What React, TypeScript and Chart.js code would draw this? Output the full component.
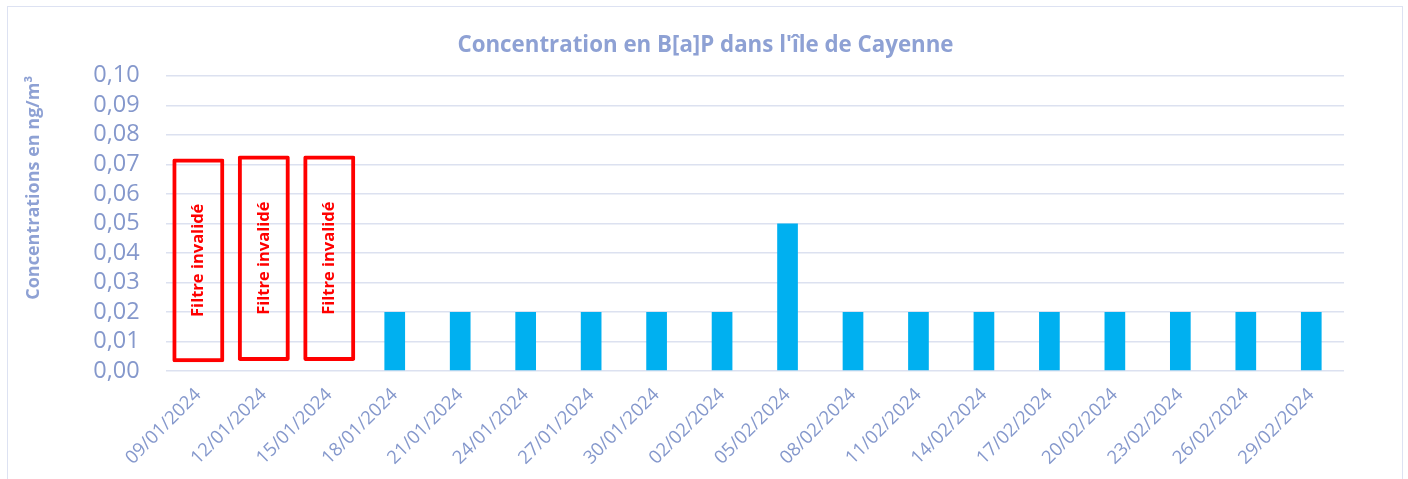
import React, { useEffect, useRef } from "react";
import { Chart, registerables } from "chart.js";

Chart.register(...registerables);

const categories = [
  "09/01/2024", "12/01/2024", "15/01/2024", "18/01/2024", "21/01/2024", "24/01/2024",
  "27/01/2024", "30/01/2024", "02/02/2024", "05/02/2024", "08/02/2024", "11/02/2024",
  "14/02/2024", "17/02/2024", "20/02/2024", "23/02/2024", "26/02/2024", "29/02/2024",
];
const concentrations: (number | null)[] = [
  null, null, null, 0.02, 0.02, 0.02, 0.02, 0.02, 0.02, 0.05, 0.02, 0.02, 0.02, 0.02, 0.02, 0.02, 0.02, 0.02,
];
const invalidRanges: ([number, number] | null)[] = [
  [0.003, 0.072], [0.0034, 0.073], [0.0034, 0.073],
  null, null, null, null, null, null, null, null, null, null, null, null, null, null, null,
];
const invalidLabel = "Filtre invalidé";
const chartTitle = "Concentration en B[a]P dans l'île de Cayenne";
const yTitle = "Concentrations en ng/m³";

const FONT = "'Open Sans', sans-serif";
const TICK_COLOR = "#8598cc";
const TITLE_COLOR = "#8ea1d4";
const GRID_COLOR = "#dce1f0";

const boxTextPlugin = {
  id: "boxText",
  afterDatasetsDraw(chart: any) {
    const meta = chart.getDatasetMeta(1);
    const ctx = chart.ctx;
    ctx.save();
    ctx.fillStyle = "#ff0000";
    ctx.font = `bold 16.5px ${FONT}`;
    ctx.textAlign = "center";
    ctx.textBaseline = "middle";
    meta.data.forEach((el: any, i: number) => {
      if (!invalidRanges[i]) return;
      const cx = el.x;
      const cy = (el.y + el.base) / 2;
      ctx.save();
      ctx.translate(cx, cy);
      ctx.rotate(-Math.PI / 2);
      ctx.fillText(invalidLabel, 0, 0);
      ctx.restore();
    });
    ctx.restore();
  },
};

export default function App() {
  const ref = useRef<HTMLCanvasElement>(null);
  useEffect(() => {
    if (!ref.current) return;
    const chart = new Chart(ref.current, {
      type: "bar",
      data: {
        labels: categories,
        datasets: [
          {
            label: "B[a]P",
            data: concentrations as any,
            backgroundColor: "#00b0f0",
            barPercentage: 0.316,
            categoryPercentage: 1,
            grouped: false,
            order: 1,
          } as any,
          {
            label: "invalid",
            data: invalidRanges as any,
            backgroundColor: "rgba(0,0,0,0)",
            borderColor: "#ff0000",
            borderWidth: 4,
            borderSkipped: false,
            borderRadius: 2,
            barPercentage: 0.794,
            categoryPercentage: 1,
            grouped: false,
            order: 0,
          } as any,
        ],
      },
      options: {
        animation: false,
        responsive: false,
        maintainAspectRatio: false,
        layout: { padding: 0 },
        plugins: {
          legend: { display: false },
          tooltip: { enabled: false },
          title: {
            display: true,
            text: chartTitle,
            color: TITLE_COLOR,
            font: { family: FONT, size: 22.3, weight: "bold", lineHeight: 1.2 },
            padding: { top: 25, bottom: 17 },
          },
        },
        scales: {
          x: {
            grid: { display: false, drawTicks: false },
            border: { display: false },
            ticks: {
              color: TICK_COLOR,
              font: { family: FONT, size: 18.5 },
              minRotation: 45,
              maxRotation: 45,
              autoSkip: false,
              padding: 13,
            },
            afterFit(scale: any) {
              scale.height = 108;
            },
          },
          y: {
            min: 0,
            max: 0.1,
            grid: { color: GRID_COLOR, lineWidth: 1.5, drawTicks: false },
            border: { display: false },
            ticks: {
              stepSize: 0.01,
              autoSkip: false,
              color: TICK_COLOR,
              font: { family: FONT, size: 23.5, lineHeight: 1 },
              padding: 26,
              callback: (v: any) => Number(v).toFixed(2).replace(".", ","),
            },
            title: {
              display: true,
              text: yTitle,
              align: "end",
              color: TITLE_COLOR,
              font: { family: FONT, size: 18, weight: "bold", lineHeight: 1.2 },
              padding: { top: 15, bottom: 0 },
            },
            afterFit(scale: any) {
              scale.width = 157.6;
            },
          },
          yRight: {
            position: "right",
            display: true,
            grid: { display: false, drawTicks: false },
            border: { display: false },
            ticks: { display: false },
            afterFit(scale: any) {
              scale.width = 59;
            },
          },
        },
      },
      plugins: [boxTextPlugin],
    });
    return () => chart.destroy();
  }, []);

  return (
    <div
      style={{
        position: "absolute",
        left: 7,
        top: 6,
        width: 1396,
        height: 520,
        border: "1px solid #dde2f2",
        boxSizing: "border-box",
        background: "#fff",
      }}
    >
      <canvas
        ref={ref}
        width={1395}
        height={472}
        style={{ position: "absolute", left: 0, top: 0, width: 1395, height: 472 }}
      />
    </div>
  );
}
